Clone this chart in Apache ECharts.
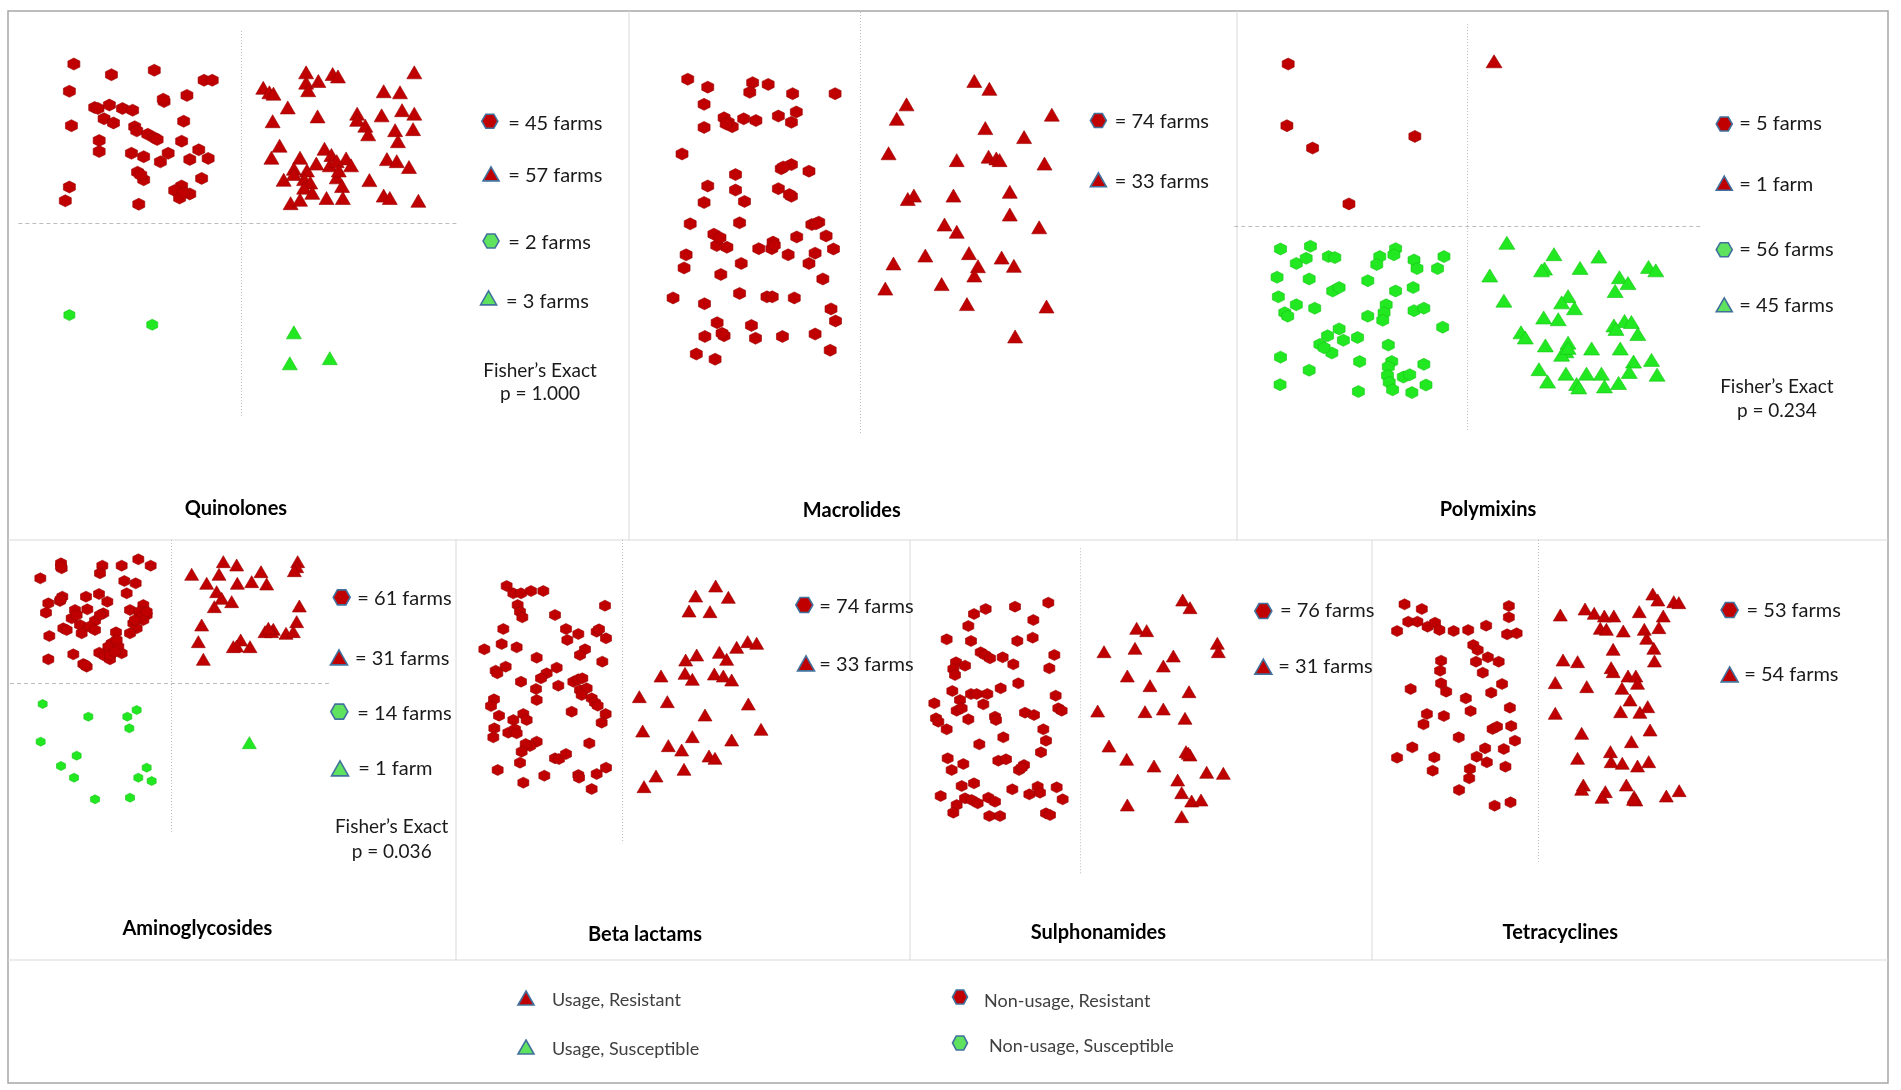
<!DOCTYPE html>
<html lang="en">
<head>
<meta charset="UTF-8">
<title>Resistance by antimicrobial usage</title>
<script src="https://cdn.jsdelivr.net/npm/echarts@6/dist/echarts.min.js"></script>
<style>html,body{margin:0;padding:0;background:#fff;}</style>
</head>
<body>
<div id="chart" style="width:1901px;height:1090px;"></div>
<script>
  // farm positions are jitter coordinates inside each panel (arbitrary units, y grows downward)
  // nonRes = non-usage resistant, useRes = usage resistant, nonSus / useSus = susceptible

  // Quinolones
  var quinolonesNonRes = [[181,186],[273,217],[378,204],[170,265],[500,233],[520,233],[458,277],[402,295],[400,288],[232,312],[240,315],[268,305],[300,315],[325,320],[175,365],[255,345],[278,357],[450,352],[330,368],[335,380],[362,390],[378,400],[385,405],[243,408],[243,440],[445,410],[322,445],[352,455],[412,445],[393,470],[487,435],[465,463],[510,460],[337,500],[352,522],[494,518],[170,543],[160,583],[340,593],[445,540],[428,553],[440,575],[465,563],[450,560],[345,508]];
  var quinolonesUseRes = [[750,210],[815,215],[828,222],[1015,210],[750,240],[780,235],[755,262],[645,255],[660,268],[670,272],[705,312],[940,265],[980,268],[778,338],[668,352],[875,330],[935,335],[985,320],[1015,330],[875,348],[895,365],[902,390],[968,378],[1012,375],[975,410],[685,423],[665,458],[735,458],[795,432],[812,450],[848,460],[860,480],[775,475],[808,480],[825,468],[948,462],[972,468],[1002,485],[720,490],[752,495],[695,522],[745,520],[760,530],[825,515],[838,540],[905,523],[745,545],[765,560],[712,590],[735,580],[800,575],[840,575],[940,568],[955,575],[1025,583],[720,505],[830,495]];
  var quinolonesNonSus = [[170,915],[373,943]];
  var quinolonesUseSus = [[720,965],[710,1055],[808,1040]];

  // Macrolides
  var macrolidesNonRes = [[166,230],[215,253],[325,240],[318,268],[363,245],[423,272],[527,272],[206,303],[432,325],[255,342],[265,355],[275,368],[303,345],[333,350],[388,337],[420,355],[206,370],[152,447],[395,490],[420,478],[463,497],[283,507],[215,540],[283,552],[388,548],[420,570],[206,588],[305,585],[172,650],[293,647],[470,652],[487,645],[230,680],[237,713],[262,718],[340,722],[375,703],[372,722],[433,688],[505,685],[523,723],[478,735],[412,740],[463,765],[162,740],[157,778],[297,765],[247,797],[497,810],[130,865],[207,882],[293,852],[360,862],[373,862],[427,865],[517,897],[528,932],[238,937],[322,945],[332,982],[208,977],[255,975],[398,977],[478,970],[515,1017],[187,1028],[233,1043],[400,485],[415,565],[250,968],[260,360],[480,650],[378,712],[245,690]];
  var macrolidesUseRes = [[868,235],[905,258],[702,303],[678,345],[1058,333],[895,372],[990,398],[658,445],[825,465],[903,455],[922,460],[930,465],[1040,475],[705,578],[720,568],[817,568],[955,557],[955,623],[795,652],[825,673],[1027,660],[748,742],[855,735],[935,748],[670,765],[877,773],[965,772],[868,800],[788,825],[650,838],[850,883],[1045,890],[968,977]];
  var macrolidesNonSus = [];
  var macrolidesUseSus = [];

  // Polymixins
  var polymixinsNonRes = [[136,186],[133,365],[193,430],[432,396],[278,592]];
  var polymixinsUseRes = [[617,178]];
  var polymixinsNonSus = [[118,723],[188,715],[155,765],[178,750],[230,745],[245,748],[350,745],[343,768],[387,722],[383,740],[430,755],[437,780],[500,745],[485,780],[110,805],[185,810],[322,815],[240,845],[255,835],[387,845],[428,835],[113,862],[155,885],[198,895],[128,908],[135,918],[365,885],[360,908],[322,918],[357,930],[430,902],[453,895],[497,950],[255,955],[228,975],[210,1000],[238,1025],[265,988],[298,980],[220,1010],[370,1002],[118,1037],[185,1075],[303,1050],[378,1050],[370,1065],[368,1090],[372,1110],[380,1132],[405,1095],[420,1088],[453,1058],[458,1118],[117,1117],[300,1137],[425,1140]];
  var polymixinsUseSus = [[647,705],[757,738],[735,780],[728,785],[818,778],[862,745],[978,775],[995,785],[607,800],[910,805],[930,822],[900,845],[640,873],[790,860],[775,878],[805,895],[733,922],[767,927],[897,945],[922,932],[938,935],[902,955],[953,970],[680,965],[690,980],[737,1003],[790,995],[785,1020],[775,1030],[845,1012],[912,1012],[943,1050],[985,1045],[933,1080],[998,1088],[722,1072],[742,1108],[785,1085],[810,1115],[833,1085],[868,1085],[875,1122],[908,1112],[815,1125],[790,1010]];

  // Aminoglycosides
  var aminoglycosidesNonRes = [[121,115],[183,70],[185,85],[307,77],[300,100],[365,77],[415,58],[452,77],[373,123],[407,130],[380,160],[297,162],[258,170],[187,170],[180,183],[322,185],[145,190],[138,218],[225,210],[262,208],[310,220],[390,210],[430,195],[418,215],[440,225],[430,240],[215,235],[240,255],[285,242],[268,260],[190,265],[245,280],[285,270],[148,288],[348,277],[400,250],[410,265],[390,280],[335,310],[325,320],[355,320],[365,340],[298,338],[315,348],[330,358],[220,343],[145,358],[250,372],[260,380],[350,300],[420,232],[405,240],[440,215],[300,225],[230,225],[182,178],[200,270],[330,345],[345,335],[255,375],[183,80]];
  var aminoglycosidesUseRes = [[670,65],[710,75],[893,65],[890,80],[883,92],[575,103],[657,103],[783,95],[620,130],[712,130],[755,125],[800,132],[650,155],[665,175],[695,185],[643,200],[898,198],[605,255],[890,245],[795,275],[820,268],[858,280],[880,275],[595,305],[722,300],[710,318],[750,320],[610,358],[815,275],[805,265],[700,320]];
  var aminoglycosidesNonSus = [[128,492],[265,530],[382,530],[410,510],[388,565],[122,605],[230,647],[183,678],[222,713],[440,683],[415,713],[455,723],[285,778],[390,773]];
  var aminoglycosidesUseSus = [[748,608]];

  // Beta lactams
  var betaLactamsNonRes = [[155,138],[175,160],[198,160],[228,153],[265,153],[188,195],[195,215],[202,232],[300,225],[450,197],[145,267],[333,267],[370,282],[425,275],[432,268],[453,295],[337,300],[140,312],[88,328],[185,322],[390,328],[375,345],[245,353],[442,365],[152,380],[122,392],[127,400],[305,383],[275,400],[258,415],[198,425],[355,425],[370,418],[382,415],[310,437],[243,447],[375,450],[395,445],[380,465],[410,475],[420,488],[428,497],[117,478],[108,498],[245,480],[350,515],[132,527],[205,522],[215,540],[175,540],[452,522],[440,548],[118,565],[115,592],[160,578],[180,568],[185,580],[245,605],[225,618],[212,612],[403,610],[200,635],[300,655],[312,657],[333,642],[195,668],[128,690],[268,707],[205,728],[370,705],[372,713],[425,702],[453,683],[410,747]];
  var betaLactamsUseRes = [[782,138],[722,168],[820,172],[702,213],[765,215],[878,305],[905,310],[845,322],[793,337],[725,345],[692,360],[815,358],[618,408],[690,400],[712,418],[778,402],[805,408],[830,420],[553,470],[637,485],[880,492],[750,525],[563,573],[918,568],[712,590],[830,600],[640,617],[680,630],[762,648],[780,655],[687,688],[603,708],[567,740]];
  var betaLactamsNonSus = [];
  var betaLactamsUseSus = [];

  // Sulphonamides
  var sulphonamidesNonRes = [[415,188],[315,200],[227,207],[192,222],[370,240],[175,258],[110,298],[183,303],[322,303],[368,293],[212,337],[225,345],[240,355],[278,352],[310,373],[433,345],[138,367],[165,377],[130,387],[135,405],[418,385],[325,430],[127,453],[183,462],[200,462],[232,462],[272,445],[150,480],[220,493],[73,490],[140,512],[155,505],[437,467],[445,505],[455,512],[78,535],[85,545],[175,538],[255,530],[258,540],[345,518],[372,525],[110,568],[400,568],[280,592],[208,613],[408,602],[393,637],[113,655],[160,672],[125,690],[265,662],[288,658],[327,690],[342,675],[155,738],[192,730],[92,768],[307,748],[358,763],[383,740],[390,758],[440,742],[458,778],[165,775],[185,780],[203,790],[235,773],[255,785],[140,795],[130,818],[238,828],[270,828],[408,820],[420,825],[335,683]];
  var sulphonamidesUseRes = [[818,180],[840,203],[680,265],[710,272],[582,335],[675,325],[922,310],[925,335],[790,348],[760,378],[652,408],[720,437],[837,455],[563,513],[705,515],[760,507],[825,535],[597,618],[828,635],[840,645],[650,658],[732,678],[890,697],[940,700],[803,720],[815,758],[845,783],[873,780],[652,795],[815,830],[835,640]];
  var sulphonamidesNonSus = [];
  var sulphonamidesUseSus = [];

  // Tetracyclines
  var tetracyclinesNonRes = [[102,193],[153,207],[410,198],[410,232],[113,245],[140,245],[170,260],[192,248],[205,270],[80,273],[247,273],[290,270],[343,257],[405,283],[433,280],[305,315],[318,330],[210,362],[313,365],[348,352],[380,365],[207,392],[333,398],[210,430],[225,455],[120,447],[390,432],[358,458],[283,475],[413,503],[297,513],[168,522],[218,528],[158,553],[362,567],[375,560],[417,558],[262,592],[428,602],[125,622],[80,653],[190,652],[340,625],[395,627],[315,650],[345,667],[400,680],[185,692],[295,687],[293,715],[263,750],[368,797],[415,787]];
  var tetracyclinesUseRes = [[835,162],[850,180],[897,185],[912,188],[562,225],[635,207],[662,220],[692,228],[720,228],[795,215],[866,228],[680,265],[698,268],[748,273],[810,268],[853,263],[817,295],[718,328],[838,325],[840,363],[570,360],[613,365],[712,383],[718,395],[762,408],[785,408],[790,430],[547,428],[640,440],[744,445],[768,480],[820,500],[740,515],[797,517],[547,520],[827,570],[625,580],[772,605],[710,635],[613,655],[712,665],[745,670],[790,678],[823,665],[630,735],[625,748],[757,735],[695,755],[685,772],[780,770],[785,780],[875,768],[913,752],[778,778]];
  var tetracyclinesNonSus = [];
  var tetracyclinesUseSus = [];

  var legendLabels = ['Usage, Resistant', 'Usage, Susceptible', 'Non-usage, Resistant', 'Non-usage, Susceptible'];

  var RED = '#c00000', RED_EDGE = '#9a0000';
  var GREEN = '#22e822', GREEN_EDGE = '#14c414';
  var KEY_GREEN = '#5fe35f', KEY_EDGE = '#41719c';
  var HEX = 'path://M0,-10L8.66,-5L8.66,5L0,10L-8.66,5L-8.66,-5Z';

  // rect = panel box on the page, span = axis extent of the jitter units
  var panels = [
    {title: 'Quinolones', rect: [0, 0, 640, 540], span: [1568, 1568], fisher: 'p = 1.000',
      data: [quinolonesNonRes, quinolonesUseRes, quinolonesNonSus, quinolonesUseSus],
      lines: [['dotted', 590, 90, 590, 1210], ['dashed', 45, 647, 1125, 647]],
      keys: [[1200, 352, 1245, 358], [1203, 505, 1245, 510], [1203, 700, 1245, 703], [1197, 865, 1240, 875]],
      fisherAt: [1323, 1077, 1145], titleAt: [578, 1478], hex: 12, tri: [15, 13], hexSus: 11},
    {title: 'Macrolides', rect: [620, 0, 640, 540], span: [1568, 1568],
      data: [macrolidesNonRes, macrolidesUseRes, macrolidesNonSus, macrolidesUseSus],
      lines: [['dotted', 588, 35, 588, 1260]],
      keys: [[1172, 350, 1212, 353], [1172, 522, 1212, 527]],
      titleAt: [568, 1483], hex: 12, tri: [15, 13]},
    {title: 'Polymixins', rect: [1230, 0, 671, 540], span: [1568, 1568], fisher: 'p = 0.234',
      data: [polymixinsNonRes, polymixinsUseRes, polymixinsNonSus, polymixinsUseSus],
      lines: [['dotted', 555, 70, 555, 1250], ['dashed', 10, 658, 1100, 658]],
      keys: [[1155, 360, 1190, 360], [1155, 532, 1190, 535], [1155, 725, 1190, 725], [1155, 885, 1190, 888]],
      fisherAt: [1278, 1123, 1193], titleAt: [603, 1480], hex: 12, tri: [16, 13], hexSus: 12},
    {title: 'Aminoglycosides', rect: [0, 540, 460, 420], span: [1380, 1260], fisher: 'p = 0.036',
      data: [aminoglycosidesNonRes, aminoglycosidesUseRes, aminoglycosidesNonSus, aminoglycosidesUseSus],
      lines: [['dotted', 515, 0, 515, 880], ['dashed', 30, 430, 995, 430]],
      keys: [[1025, 172, 1072, 177], [1017, 352, 1065, 355], [1018, 515, 1072, 520], [1020, 685, 1075, 687]],
      fisherAt: [1175, 862, 935], titleAt: [592, 1165], hex: 11, tri: [14, 12], hexSus: 9},
    {title: 'Beta lactams', rect: [455, 540, 460, 420], span: [1380, 1260],
      data: [betaLactamsNonRes, betaLactamsUseRes, betaLactamsNonSus, betaLactamsUseSus],
      lines: [['dotted', 503, 0, 503, 910]],
      keys: [[1048, 195, 1093, 200], [1053, 370, 1093, 375]],
      titleAt: [570, 1183], hex: 11, tri: [14, 12]},
    {title: 'Sulphonamides', rect: [910, 540, 470, 420], span: [1410, 1260],
      data: [sulphonamidesNonRes, sulphonamidesUseRes, sulphonamidesNonSus, sulphonamidesUseSus],
      lines: [['dotted', 512, 25, 512, 1000]],
      keys: [[1060, 213, 1110, 213], [1060, 380, 1105, 380]],
      titleAt: [565, 1178], hex: 11, tri: [14, 12]},
    {title: 'Tetracyclines', rect: [1370, 540, 531, 420], span: [1568, 1260],
      data: [tetracyclinesNonRes, tetracyclinesUseRes, tetracyclinesNonSus, tetracyclinesUseSus],
      lines: [['dotted', 497, 0, 497, 965]],
      keys: [[1062, 210, 1112, 213], [1062, 403, 1105, 403]],
      titleAt: [562, 1178], hex: 11, tri: [14, 12]}
  ];

  function toPx(p, zx, zy) {
    return [p.rect[0] + zx * p.rect[2] / p.span[0], p.rect[1] + zy * p.rect[3] / p.span[1]];
  }

  function hexPts(cx, cy, w, h) {
    return [[cx - w / 2, cy], [cx - w / 4, cy - h / 2], [cx + w / 4, cy - h / 2],
      [cx + w / 2, cy], [cx + w / 4, cy + h / 2], [cx - w / 4, cy + h / 2]];
  }

  function triPts(cx, cy, w, h) {
    return [[cx, cy - h / 2], [cx + w / 2, cy + h / 2], [cx - w / 2, cy + h / 2]];
  }

  function keyIcon(kind, cx, cy, w, h) {
    var isHex = kind % 2 === 0;
    var fill = kind < 2 ? RED : KEY_GREEN;
    return {
      type: 'polygon', z: 20, silent: true,
      shape: {points: isHex ? hexPts(cx, cy, w, h) : triPts(cx, cy, w, h)},
      style: {fill: fill, stroke: KEY_EDGE, lineWidth: 1.6}
    };
  }

  function farmText(n) {
    return '= ' + n + (n === 1 ? ' farm' : ' farms');
  }

  var grids = [], xAxes = [], yAxes = [], series = [], graphics = [];

  // outer frame and panel dividers
  graphics.push({type: 'rect', silent: true, shape: {x: 8, y: 11, width: 1880, height: 1072},
    style: {fill: 'none', stroke: '#a6a6a6', lineWidth: 1.5}});
  [[8, 540, 1888, 540], [8, 960, 1888, 960], [629, 11, 629, 540], [1237, 11, 1237, 540],
    [456, 540, 456, 960], [910, 540, 910, 960], [1372, 540, 1372, 960]].forEach(function (l) {
    graphics.push({type: 'line', silent: true, shape: {x1: l[0], y1: l[1], x2: l[2], y2: l[3]},
      style: {stroke: '#d9d9d9', lineWidth: 1}});
  });

  panels.forEach(function (p, i) {
    grids.push({left: p.rect[0], top: p.rect[1], width: p.rect[2], height: p.rect[3], show: false});
    xAxes.push({type: 'value', gridIndex: i, min: 0, max: p.span[0], show: false});
    yAxes.push({type: 'value', gridIndex: i, min: 0, max: p.span[1], inverse: true, show: false});

    var kinds = [
      [HEX, RED, RED_EDGE, p.hex],
      ['triangle', RED, RED_EDGE, p.tri],
      [HEX, GREEN, GREEN_EDGE, p.hexSus || p.hex],
      ['triangle', GREEN, GREEN_EDGE, p.tri]
    ];
    kinds.forEach(function (k, j) {
      var s = {
        type: 'scatter', name: legendLabels[[2, 0, 3, 1][j]],
        xAxisIndex: i, yAxisIndex: i, data: p.data[j],
        symbol: k[0], symbolSize: k[3], silent: true, z: 3,
        itemStyle: {color: k[1], borderColor: k[2], borderWidth: 0.6, opacity: 1}
      };
      if (j === 0) {
        s.markLine = {
          silent: true, symbol: ['none', 'none'], label: {show: false}, animation: false,
          data: p.lines.map(function (l) {
            return [{coord: [l[1], l[2]], lineStyle: {type: l[0] === 'dashed' ? [4, 3] : [1, 2], color: '#bdbdbd', width: 1}},
              {coord: [l[3], l[4]]}];
          })
        };
      }
      series.push(s);
    });

    // per-panel key
    var big = p.span[1] === 1568 ? [16, 14] : [17, 15];
    p.keys.forEach(function (k, j) {
      var c = toPx(p, k[0], k[1]);
      var t = toPx(p, k[2], k[3]);
      graphics.push(keyIcon(j, c[0], c[1], big[0], big[1]));
      graphics.push({type: 'text', z: 20, silent: true, x: t[0], y: t[1],
        style: {text: farmText(p.data[j].length), font: '20px Lato', fill: '#1a1a1a', align: 'left', verticalAlign: 'middle'}});
    });

    if (p.fisher) {
      var f1 = toPx(p, p.fisherAt[0], p.fisherAt[1]);
      var f2 = toPx(p, p.fisherAt[0], p.fisherAt[2]);
      graphics.push({type: 'text', z: 20, silent: true, x: f1[0], y: f1[1],
        style: {text: 'Fisher’s Exact', font: '19px Lato', fill: '#1a1a1a', align: 'center', verticalAlign: 'middle'}});
      graphics.push({type: 'text', z: 20, silent: true, x: f2[0], y: f2[1],
        style: {text: p.fisher, font: '19px Lato', fill: '#1a1a1a', align: 'center', verticalAlign: 'middle'}});
    }

    var tp = toPx(p, p.titleAt[0], p.titleAt[1]);
    graphics.push({type: 'text', z: 20, silent: true, x: tp[0], y: tp[1],
      style: {text: p.title, font: 'bold 20px Lato', fill: '#000', align: 'center', verticalAlign: 'middle'}});
  });

  // bottom legend: [kind, icon x, icon y, text x, text y]
  var legendSpots = [[1, 526, 998, 552, 1000], [3, 526, 1047, 552, 1049], [0, 960, 997, 984, 1001], [2, 960, 1043, 989, 1046]];
  legendSpots.forEach(function (s, j) {
    graphics.push(keyIcon(s[0], s[1], s[2], s[0] % 2 === 0 ? 15 : 16, 14));
    graphics.push({type: 'text', z: 20, silent: true, x: s[3], y: s[4],
      style: {text: legendLabels[j], font: '18px Lato', fill: '#404040', align: 'left', verticalAlign: 'middle'}});
  });

  var chart = echarts.init(document.getElementById('chart'));
  chart.setOption({
    animation: false,
    backgroundColor: '#fff',
    grid: grids,
    xAxis: xAxes,
    yAxis: yAxes,
    series: series,
    graphic: graphics
  });
</script>
</body>
</html>
